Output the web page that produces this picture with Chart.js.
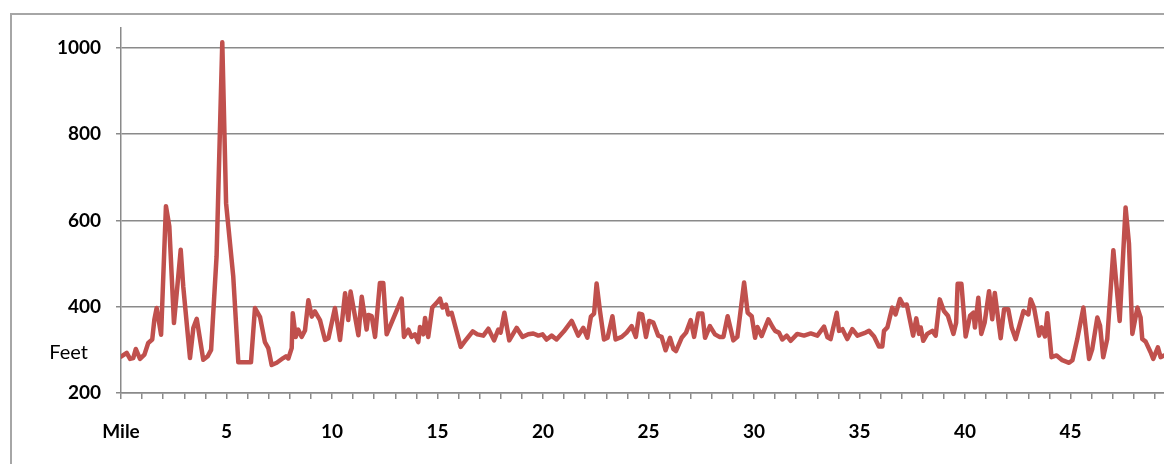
<!DOCTYPE html>
<html>
<head>
    <title>Elevation by Mile</title>
    <script src="https://cdn.jsdelivr.net/npm/chart.js"></script>
    <style>
        body {
            margin: 0;
            background: #fff;
            overflow: hidden;
        }
        #wrap {
            position: relative;
            width: 1164px;
            height: 464px;
            overflow: hidden;
        }
        #frame {
            position: absolute;
            left: 10px;
            top: 13px;
            width: 1300px;
            height: 600px;
            border-top: 2px solid #a6a6a6;
            border-left: 2px solid #a6a6a6;
        }
        #chart {
            position: absolute;
            left: 0;
            top: 0;
        }
    </style>
</head>
<body>
    <div id="wrap">
        <div id="frame"></div>
        <canvas id="chart" width="1164" height="464"></canvas>
    </div>

    <script>
        // Mile markers and elevation (feet)
        const miles = [
            0.00, 0.27, 0.43, 0.58, 0.70, 0.90, 1.11, 1.29, 1.48, 1.58, 1.69, 1.90, 2.13, 2.29, 2.51, 2.83, 2.95,
            3.27, 3.43, 3.59, 3.90, 4.11, 4.27, 4.53, 4.80, 4.98, 5.32, 5.56, 6.16, 6.35, 6.59, 6.82, 6.98, 7.14,
            7.38, 7.69, 7.82, 7.93, 8.09, 8.14, 8.28, 8.40, 8.56, 8.72, 8.88, 9.04, 9.19, 9.43, 9.67, 9.83, 10.14,
            10.38, 10.62, 10.77, 10.88, 11.25, 11.41, 11.64, 11.72, 11.88, 12.04, 12.27, 12.43, 12.59, 13.30, 13.41,
            13.62, 13.77, 13.93, 14.09, 14.17, 14.33, 14.41, 14.56, 14.75, 14.96, 15.12, 15.24, 15.40, 15.51, 15.67,
            16.10, 16.30, 16.67, 16.89, 17.17, 17.41, 17.68, 17.88, 17.99, 18.17, 18.40, 18.75, 19.03, 19.30, 19.54,
            19.78, 19.98, 20.17, 20.41, 20.64, 20.99, 21.36, 21.67, 21.91, 22.10, 22.27, 22.42, 22.54, 22.70, 22.89,
            23.06, 23.29, 23.44, 23.73, 23.96, 24.20, 24.40, 24.56, 24.70, 24.88, 25.03, 25.23, 25.46, 25.62, 25.81,
            26.02, 26.18, 26.30, 26.57, 26.78, 27.00, 27.16, 27.36, 27.55, 27.68, 27.91, 28.15, 28.36, 28.55, 28.75,
            29.02, 29.21, 29.53, 29.70, 29.89, 30.05, 30.16, 30.36, 30.68, 30.88, 31.00, 31.18, 31.34, 31.55, 31.74,
            32.05, 32.37, 32.69, 33.00, 33.32, 33.48, 33.63, 33.92, 34.03, 34.19, 34.42, 34.66, 34.90, 35.29, 35.45,
            35.69, 35.92, 36.08, 36.16, 36.32, 36.55, 36.71, 36.92, 37.08, 37.24, 37.54, 37.69, 37.82, 37.90, 38.02,
            38.21, 38.45, 38.61, 38.80, 39.00, 39.19, 39.45, 39.58, 39.65, 39.83, 40.03, 40.24, 40.40, 40.47, 40.63,
            40.77, 40.93, 41.14, 41.29, 41.41, 41.69, 41.85, 42.05, 42.21, 42.40, 42.77, 43.00, 43.11, 43.27, 43.51,
            43.63, 43.79, 43.90, 44.10, 44.34, 44.61, 44.93, 45.09, 45.32, 45.61, 45.88, 46.03, 46.27, 46.40, 46.55,
            46.74, 47.03, 47.14, 47.33, 47.61, 47.77, 47.93, 48.17, 48.32, 48.40, 48.56, 48.79, 48.92, 49.14, 49.27,
            49.43
        ];
        const feet = [
            284, 293, 279, 281, 302, 279, 289, 316, 324, 370, 397, 335, 633, 586, 362, 532, 447,
            281, 351, 372, 277, 285, 300, 517, 1013, 640, 470, 271, 271, 397, 376, 318, 304, 265,
            270, 281, 285, 280, 304, 385, 330, 347, 330, 345, 415, 377, 389, 369, 323, 327, 397,
            323, 431, 369, 435, 334, 423, 347, 381, 378, 330, 455, 455, 336, 419, 330,
            347, 330, 336, 318, 353, 336, 374, 330, 398, 409, 419, 398, 405, 382, 386,
            307, 320, 343, 336, 333, 349, 322, 347, 340, 386, 322, 351, 330, 336, 338,
            333, 336, 324, 333, 324, 343, 367, 333, 351, 328, 377, 384, 454, 390, 324,
            328, 378, 324, 330, 340, 355, 330, 384, 382, 330, 367, 363, 333, 330, 299,
            328, 302, 297, 328, 340, 369, 330, 384, 384, 328, 355, 336, 330, 330, 378,
            322, 330, 456, 386, 378, 328, 353, 332, 371, 353, 344, 340, 324, 333, 321,
            337, 333, 338, 333, 354, 329, 325, 386, 344, 348, 325, 348, 333, 340, 344,
            331, 308, 308, 344, 352, 398, 382, 418, 403, 405, 333, 373, 337, 352, 321,
            337, 344, 333, 417, 390, 379, 337, 363, 453, 453, 331, 379, 386, 352, 421,
            337, 363, 436, 371, 432, 327, 394, 394, 352, 325, 390, 382, 417, 398, 333,
            352, 331, 385, 283, 287, 276, 270, 276, 325, 398, 279, 302, 375, 356, 283,
            325, 531, 470, 367, 630, 546, 337, 398, 375, 325, 319, 295, 279, 306, 283,
            287
        ];
        const yTicks = [200, 400, 600, 800, 1000];
        const xLabelEvery = 5;
        const xFirstLabel = 'Mile';
        const yTitle = 'Feet';

        const gridGray = '#8a8a8a';

        // draws the horizontal "Feet" label beside the axis
        const feetLabel = {
            id: 'feetLabel',
            afterDraw(chart) {
                const { ctx, chartArea, scales } = chart;
                ctx.save();
                ctx.font = '20px Lato';
                ctx.fillStyle = '#000';
                ctx.textAlign = 'right';
                ctx.textBaseline = 'middle';
                ctx.fillText(yTitle, chartArea.left - 33, scales.y.getPixelForValue(293));
                ctx.restore();
            }
        };

        new Chart(document.getElementById('chart'), {
            type: 'line',
            data: {
                datasets: [{
                    data: miles.map((m, i) => ({ x: m, y: feet[i] })),
                    borderColor: '#C0504D',
                    borderWidth: 4.5,
                    borderJoinStyle: 'round',
                    borderCapStyle: 'round',
                    pointRadius: 0,
                    tension: 0,
                    fill: false
                }]
            },
            options: {
                responsive: false,
                animation: false,
                layout: { padding: { top: 28, right: 0, left: 0, bottom: 0 } },
                plugins: {
                    legend: { display: false },
                    tooltip: { enabled: false }
                },
                scales: {
                    x: {
                        type: 'linear',
                        min: 0,
                        max: 49.43,
                        afterFit: (scale) => {
                            scale.height = 71;
                            scale.paddingLeft = 0;
                            scale.paddingRight = 0;
                        },
                        ticks: {
                            stepSize: 1,
                            includeBounds: false,
                            autoSkip: false,
                            maxRotation: 0,
                            padding: 21,
                            color: '#000',
                            font: { family: 'Lato', size: 19, weight: 'bold' },
                            callback: (v) => v === 0 ? xFirstLabel : (v % xLabelEvery === 0 ? String(v) : '')
                        },
                        grid: {
                            drawOnChartArea: false,
                            drawTicks: true,
                            tickLength: 6,
                            color: gridGray,
                            lineWidth: 1.5
                        },
                        border: { display: true, color: gridGray, width: 1.5 }
                    },
                    y: {
                        min: 200,
                        max: 1046,
                        afterFit: (scale) => { scale.width = 121; },
                        afterBuildTicks: (scale) => { scale.ticks = yTicks.map(v => ({ value: v })); },
                        ticks: {
                            padding: 15,
                            color: '#000',
                            font: { family: 'Lato', size: 19, weight: 'bold' },
                            callback: (v) => String(v)
                        },
                        grid: {
                            color: gridGray,
                            lineWidth: 1.5,
                            tickLength: 5
                        },
                        border: { display: true, color: gridGray, width: 1.5 }
                    }
                }
            },
            plugins: [feetLabel]
        });
    </script>
</body>
</html>
